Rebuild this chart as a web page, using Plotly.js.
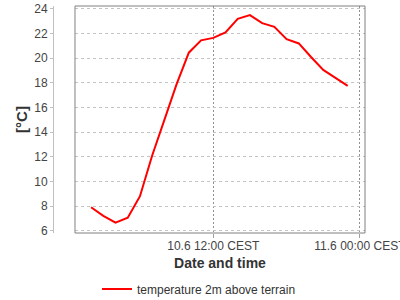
<!DOCTYPE html>
<html>
<head>
<meta charset="utf-8">
<script src="https://cdn.plot.ly/plotly-3.0.1.min.js"></script>
<style>html,body{margin:0;padding:0;background:#fff;}#chart{width:400px;height:300px;}</style>
</head>
<body>
<div id="chart"></div>
<script>
const times = [
  '2020-06-10 02:00','2020-06-10 03:00','2020-06-10 04:00','2020-06-10 05:00',
  '2020-06-10 06:00','2020-06-10 07:00','2020-06-10 08:00','2020-06-10 09:00',
  '2020-06-10 10:00','2020-06-10 11:00','2020-06-10 12:00','2020-06-10 13:00',
  '2020-06-10 14:00','2020-06-10 15:00','2020-06-10 16:00','2020-06-10 17:00',
  '2020-06-10 18:00','2020-06-10 19:00','2020-06-10 20:00','2020-06-10 21:00',
  '2020-06-10 22:00','2020-06-10 23:00'
];
const temperature = [
  7.9, 7.2, 6.65, 7.05, 8.8, 12.1, 15.0, 17.9, 20.45, 21.45, 21.65, 22.1,
  23.2, 23.5, 22.85, 22.55, 21.55, 21.2, 20.1, 19.05, 18.4, 17.75
];
const seriesName = 'temperature 2m above terrain';
const xTickVals = ['2020-06-10 12:00', '2020-06-11 00:00'];
const xTickText = ['10.6 12:00 CEST', '11.6 00:00 CEST'];
const yTickVals = [6, 8, 10, 12, 14, 16, 18, 20, 22, 24];

const font = 'Liberation Sans, Arial, sans-serif';

const data = [{
  x: times,
  y: temperature,
  type: 'scatter',
  mode: 'lines',
  name: seriesName,
  line: {color: '#ff0000', width: 2}
}];

const layout = {
  width: 400,
  height: 300,
  margin: {l: 53, r: 35, t: 6, b: 67},
  paper_bgcolor: '#ffffff',
  plot_bgcolor: '#ffffff',
  font: {family: font, size: 12, color: '#444444'},
  showlegend: true,
  legend: {
    orientation: 'h',
    xref: 'container', yref: 'container',
    x: 0.4975, xanchor: 'center',
    y: 0.037, yanchor: 'middle',
    font: {family: font, size: 12, color: '#333333'}
  },
  xaxis: {
    type: 'date',
    automargin: false,
    domain: [0.0705, 1],
    range: ['2020-06-10 00:41', '2020-06-11 00:25'],
    tickvals: xTickVals,
    ticktext: xTickText,
    ticklabeloverflow: 'allow',
    ticklabelstandoff: -2,
    showgrid: true,
    gridcolor: '#909090',
    griddash: '2px,2px',
    gridwidth: 1,
    zeroline: false,
    showline: false,
    ticks: 'outside',
    ticklen: 4,
    tickcolor: '#a0a0a0',
    tickfont: {family: font, size: 12, color: '#444444'},
    title: {text: 'Date and time', font: {family: font, size: 14, color: '#333333', weight: 'bold'}, standoff: 5}
  },
  yaxis: {
    automargin: false,
    range: [5.81, 24.24],
    tickvals: yTickVals,
    anchor: 'free',
    position: 0,
    showgrid: true,
    gridcolor: '#c4c4c4',
    griddash: '3px,3px',
    gridwidth: 1,
    zeroline: false,
    showline: true,
    linecolor: '#c0c0c0',
    linewidth: 1,
    ticks: 'outside',
    ticklen: 3,
    tickcolor: '#c0c0c0',
    tickfont: {family: font, size: 12, color: '#444444'},
    title: {text: '[°C]', font: {family: font, size: 15, color: '#333333', weight: 'bold'}, standoff: 1}
  },
  shapes: [{
    type: 'rect', xref: 'x domain', yref: 'y domain',
    x0: 0, x1: 1, y0: 0, y1: 1,
    line: {color: '#808080', width: 1}
  }]
};

Plotly.newPlot('chart', data, layout, {displayModeBar: false, staticPlot: true});
</script>
</body>
</html>
